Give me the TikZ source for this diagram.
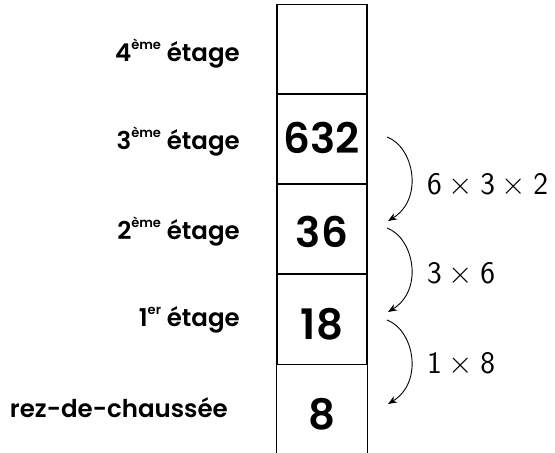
\documentclass[tikz,border=0pt]{standalone}
\usepackage{fontspec}
\usepackage{graphicx}
\newfontfamily\comic{Poppins}[UprightFont=* SemiBold]
\usetikzlibrary{arrows.meta}
\tikzset{
  cell/.style={draw, line width=1.1pt, minimum width=90pt, minimum height=90pt, inner sep=0pt, anchor=center},
  num/.style={font=\comic\fontsize{42}{44}\selectfont, anchor=base, inner sep=0pt},
  floor/.style={font=\comic\fontsize{24.5}{28}\selectfont, anchor=base east, inner sep=0pt},
  op/.style={font=\fontsize{24.88}{30}\selectfont, anchor=base west, inner sep=0pt},
  jump/.style={line width=0.9pt, -{Stealth[length=9pt,width=7pt]}},
  wall/.style={line width=1.1pt}
}
\newcommand{\expo}[1]{\raisebox{0.5em}{\fontsize{13}{15}\selectfont #1}}
\newcommand{\bigop}[1]{\scalebox{1.26}{$#1$}}
\begin{document}
\begin{tikzpicture}[x=1pt,y=1pt]
\useasboundingbox (0,0) rectangle (555,453);
% cells (y up: y = 453 - pixel row)
\node[cell] (c4) at (322,403.5) {};
\node[cell] (c3) at (322,314) {};
\node[cell] (c2) at (322,224) {};
\node[cell] (c1) at (322,133.5) {};
\node[minimum width=90pt, minimum height=89pt, inner sep=0pt] (c0) at (322,44.5) {};
\draw[wall] (c0.north west) -- (c0.south west);
\draw[wall] (c0.north east) -- (c0.south east);
% numbers
\node[num] (n3) at (322,299) {632};
\node[num] (n2) at (322,205) {36};
\node[num] (n1) at (322,113) {18};
\node[num] (n0) at (322,23) {8};
% floor labels
\node[floor] (f4) at (240,391) {4\expo{ème} étage};
\node[floor] (f3) at (240,303) {3\expo{ème} étage};
\node[floor] (f2) at (240,213) {2\expo{ème} étage};
\node[floor] (f1) at (240,126) {1\expo{er} étage};
\node[floor] (f0) at (228,35) {rez-de-chaussée};
% arrows
\coordinate (s3) at (387,316);
\coordinate (e3) at (388,232);
\coordinate (s2) at (387,225);
\coordinate (e2) at (388,141);
\coordinate (s1) at (387,133);
\coordinate (e1) at (388,49);
\draw[jump] (s3) .. controls (414,306) and (424,254) .. (e3);
\draw[jump] (s2) .. controls (414,215) and (424,163) .. (e2);
\draw[jump] (s1) .. controls (414,123) and (424,71) .. (e1);
% operations
\node[op] (o3) at (427,258) {\bigop{\mathsf{6}\times\mathsf{3}\times\mathsf{2}}};
\node[op] (o2) at (427,169) {\bigop{\mathsf{3}\times\mathsf{6}}};
\node[op] (o1) at (427,79) {\bigop{\mathsf{1}\times\mathsf{8}}};
\end{tikzpicture}
\end{document}
